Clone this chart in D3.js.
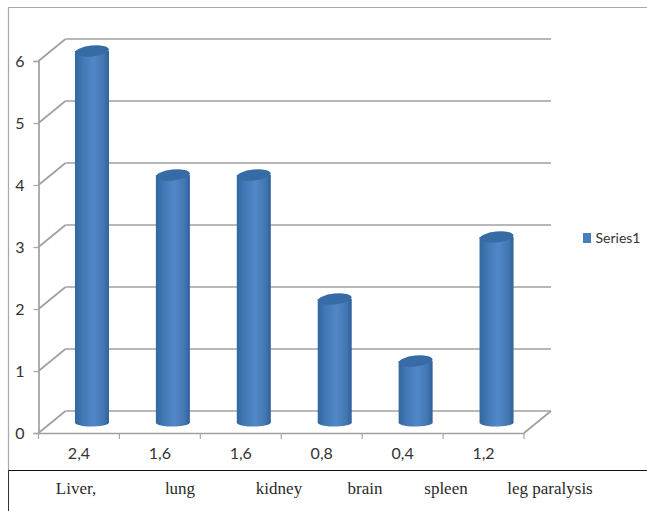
<!DOCTYPE html>
<html>
<head>
<meta charset="utf-8">
<script src="https://cdn.jsdelivr.net/npm/d3@7"></script>
<style>
    html, body { margin: 0; padding: 0; background: #fff; }
    svg { display: block; }
</style>
</head>
<body>
<div id="chart"></div>
<script>
const values = [6, 4, 4, 2, 1, 3];
const percentLabels = ['2,4', '1,6', '1,6', '0,8', '0,4', '1,2'];
const organs = ['Liver,', 'lung', 'kidney', 'brain', 'spleen', 'leg paralysis'];
const organX = [76, 180, 279, 365, 446, 550];
const yTicks = [0, 1, 2, 3, 4, 5, 6];
const seriesName = 'Series1';

const width = 647, height = 511;
const depthX = 27, depthY = -22; // skew of the fake 3d box
const barRx = 17, barRy = 5.5;

const svg = d3.select('#chart').append('svg')
    .attr('width', width)
    .attr('height', height);

const x = d3.scaleBand().domain(d3.range(values.length)).range([38.5, 524]);
const y = d3.scaleLinear().domain([0, 6]).range([433, 61]);

// horizontal shading of the cylinders
const grad = svg.append('defs').append('linearGradient').attr('id', 'cyl');
grad.append('stop').attr('offset', '0%').attr('stop-color', '#32689f');
grad.append('stop').attr('offset', '25%').attr('stop-color', '#4379b6');
grad.append('stop').attr('offset', '55%').attr('stop-color', '#5288c8');
grad.append('stop').attr('offset', '85%').attr('stop-color', '#4176b2');
grad.append('stop').attr('offset', '100%').attr('stop-color', '#2f5f96');

// outer frame and table line, the frame has no right edge
svg.append('path')
    .attr('d', 'M8.5,470V7.5H647')
    .attr('fill', 'none')
    .attr('stroke', '#a8a8a8')
    .attr('stroke-width', 1.2);
svg.append('line').attr('x1', 8).attr('x2', 647).attr('y1', 470.5).attr('y2', 470.5)
    .attr('stroke', '#111').attr('stroke-width', 1.2);
svg.append('line').attr('x1', 8.5).attr('x2', 8.5).attr('y1', 470).attr('y2', 511)
    .attr('stroke', '#333').attr('stroke-width', 1);

// back wall gridlines and side wall diagonals
const grid = svg.append('g').attr('stroke', '#a0a0a0').attr('stroke-width', 1.7).attr('fill', 'none');
grid.selectAll('.back').data(yTicks).enter().append('line')
    .attr('class', 'back')
    .attr('x1', x.range()[0] + depthX)
    .attr('x2', x.range()[1] + depthX)
    .attr('y1', d => y(d) + depthY)
    .attr('y2', d => y(d) + depthY);
grid.selectAll('.side').data(yTicks).enter().append('line')
    .attr('class', 'side')
    .attr('x1', x.range()[0])
    .attr('x2', x.range()[0] + depthX)
    .attr('y1', d => y(d))
    .attr('y2', d => y(d) + depthY);
// floor right edge
grid.append('line')
    .attr('x1', x.range()[1]).attr('y1', y(0))
    .attr('x2', x.range()[1] + depthX).attr('y2', y(0) + depthY);

// axes
const yAxis = svg.append('g')
    .attr('transform', `translate(${x.range()[0]},0)`)
    .call(d3.axisLeft(y).tickValues(yTicks).tickFormat(d3.format('d')).tickSize(5).tickPadding(9));
const xAxis = svg.append('g')
    .attr('transform', `translate(0,${y(0)})`)
    .call(d3.axisBottom(x).tickFormat(i => percentLabels[i]).tickSize(0).tickPadding(15));
// ticks sit between the bands, not on them
xAxis.selectAll('.sep').data(d3.range(values.length + 1)).enter().append('line')
    .attr('class', 'sep')
    .attr('x1', i => x.range()[0] + i * x.step())
    .attr('x2', i => x.range()[0] + i * x.step())
    .attr('y1', 0).attr('y2', 6)
    .attr('stroke', '#a6a6a6').attr('stroke-width', 1.2);
[yAxis, xAxis].forEach(a => {
    a.select('.domain').attr('stroke', '#a0a0a0').attr('stroke-width', 1.7);
    a.selectAll('.tick line').attr('stroke', '#a6a6a6').attr('stroke-width', 1.2);
    a.selectAll('text').attr('fill', '#333').attr('font-family', 'Lato, "Open Sans", sans-serif').attr('font-size', 16);
});

// cylinders
const barX = i => x(i) + x.bandwidth() / 2 + depthX / 2 - 0.5;
const barY = v => y(v) + depthY / 2 + 1;
const bars = svg.append('g').selectAll('g').data(values).enter().append('g');
bars.append('path')
    .attr('fill', 'url(#cyl)')
    .attr('d', (d, i) => {
        const cx = barX(i), top = barY(d), bottom = barY(0);
        return `M${cx - barRx},${top}V${bottom}`
            + `A${barRx},4 0 0 0 ${cx + barRx},${bottom - 1}`
            + `V${top}Z`;
    });
bars.append('ellipse')
    .attr('cx', (d, i) => barX(i))
    .attr('cy', d => barY(d))
    .attr('rx', barRx)
    .attr('ry', barRy)
    .attr('transform', (d, i) => `rotate(-6 ${barX(i)} ${barY(d)})`)
    .attr('fill', '#366ba6');

// legend
const legend = svg.append('g');
legend.append('rect')
    .attr('x', 583).attr('y', 233).attr('width', 8).attr('height', 10)
    .attr('fill', '#4a7ebb');
legend.append('text')
    .attr('x', 595.5).attr('y', 243)
    .attr('font-family', 'Lato, "Open Sans", sans-serif')
    .attr('font-size', 14)
    .attr('fill', '#333')
    .text(seriesName);

// organ row underneath the chart
svg.append('g').selectAll('text').data(organs).enter().append('text')
    .attr('x', (d, i) => organX[i])
    .attr('y', 494)
    .attr('text-anchor', 'middle')
    .attr('font-family', '"Liberation Serif", serif')
    .attr('font-size', 17)
    .attr('fill', '#2a2a2a')
    .text(d => d);
</script>
</body>
</html>
